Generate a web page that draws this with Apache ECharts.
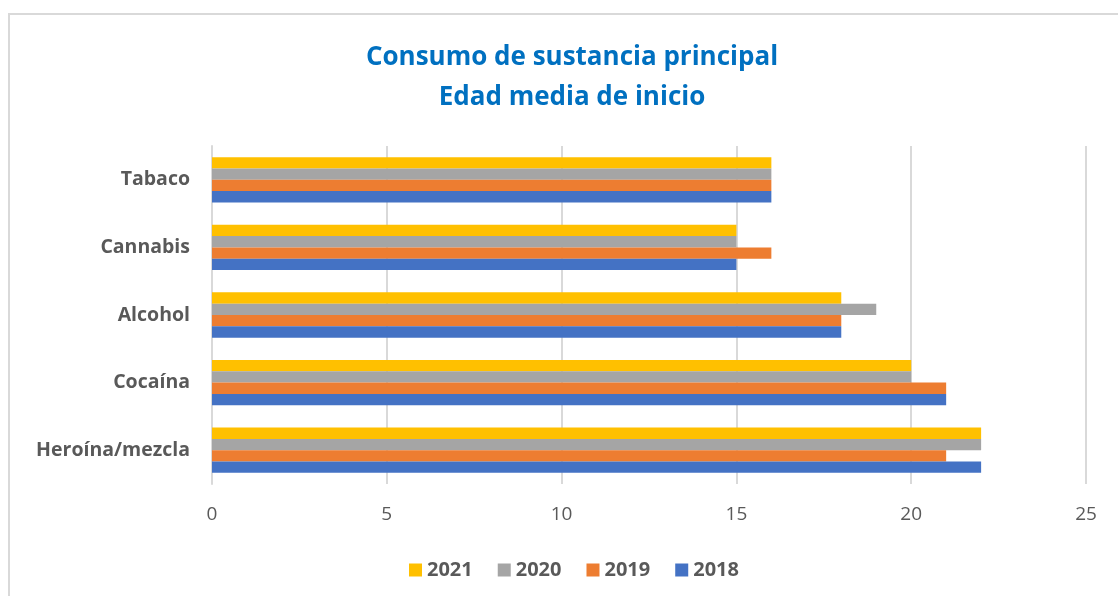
<!DOCTYPE html>
<html><head><meta charset="utf-8">
<script src="https://cdn.jsdelivr.net/npm/echarts@6/dist/echarts.min.js"></script>
<style>html,body{margin:0;padding:0;background:#fff}#c{width:1118px;height:596px}</style>
</head><body><div id="c"></div>
<script>
const categories = ['Heroína/mezcla', 'Cocaína', 'Alcohol', 'Cannabis', 'Tabaco'];
const years = ['2021', '2020', '2019', '2018'];
const v2018 = [22, 21, 18, 15, 16];
const v2019 = [21, 21, 18, 16, 16];
const v2020 = [22, 20, 19, 15, 16];
const v2021 = [22, 20, 18, 15, 16];
const legendOrder = ['2021', '2020', '2019', '2018'];
const xTicks = [0, 5, 10, 15, 20, 25];

const colors = {'2018': '#4472C4', '2019': '#ED7D31', '2020': '#A5A5A5', '2021': '#FFC000'};
const values = {'2018': v2018, '2019': v2019, '2020': v2020, '2021': v2021};
const FONT = 'Open Sans';
const chart = echarts.init(document.getElementById('c'));
chart.setOption({
  animation: false,
  textStyle: {fontFamily: FONT},
  graphic: [{type: 'rect', shape: {x: 9, y: 14, width: 1200, height: 700},
    style: {fill: 'none', stroke: '#d9d9d9', lineWidth: 2}, silent: true}],
  title: {
    text: 'Consumo de sustancia principal\nEdad media de inicio',
    left: 567, top: 33, textAlign: 'center',
    textStyle: {color: '#0070C0', fontSize: 26, fontWeight: 'bold', fontFamily: FONT, lineHeight: 40}
  },
  legend: {
    data: legendOrder, left: 404, top: 555,
    icon: 'rect', itemWidth: 13, itemHeight: 13, itemGap: 25,
    textStyle: {color: '#595959', fontSize: 20, fontWeight: 'bold', fontFamily: FONT}
  },
  grid: {left: 212, right: 32, top: 146, bottom: 112},
  xAxis: {
    type: 'value', min: 0, max: 25, interval: 5,
    axisLine: {show: false}, axisTick: {show: false},
    splitLine: {show: true, lineStyle: {color: '#d9d9d9', width: 2}},
    axisLabel: {color: '#595959', fontSize: 19, margin: 21, fontFamily: FONT,
      formatter: v => xTicks.includes(v) ? String(v) : ''}
  },
  yAxis: {
    type: 'category', data: categories,
    axisLine: {show: true, lineStyle: {color: '#d9d9d9', width: 2}},
    axisTick: {show: false},
    axisLabel: {color: '#595959', fontSize: 19.5, fontWeight: 'bold', margin: 22, fontFamily: FONT}
  },
  series: years.map(y => ({
    name: y, type: 'bar', data: values[y],
    itemStyle: {color: colors[y]},
    barGap: '0%', barCategoryGap: '33%'
  }))
});
</script></body></html>
